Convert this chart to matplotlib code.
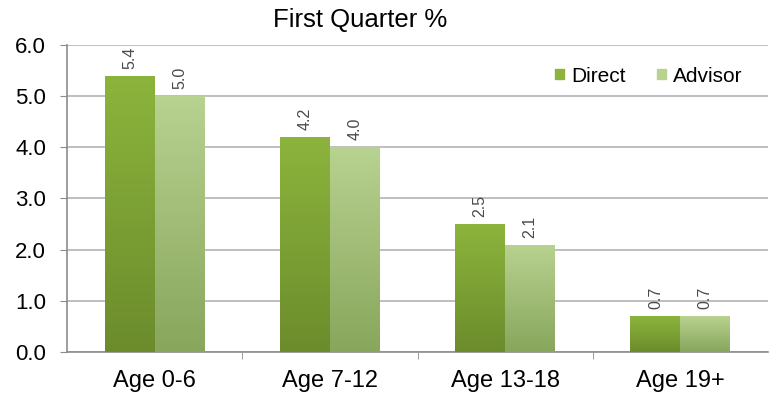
import matplotlib.pyplot as plt
import numpy as np
from matplotlib.colors import LinearSegmentedColormap
from matplotlib.patches import Patch

plt.rcParams['font.family'] = ['Liberation Sans', 'DejaVu Sans']

categories = ['Age 0-6', 'Age 7-12', 'Age 13-18', 'Age 19+']
direct = [5.4, 4.2, 2.5, 0.7]
advisor = [5.0, 4.0, 2.1, 0.7]

# gradient colours, top -> bottom
direct_cols = ['#8cb43c', '#6c8c2c']
advisor_cols = ['#b8d290', '#88a65c']

fig = plt.figure(figsize=(7.75, 3.97), dpi=100)
ax = fig.add_axes([0.0865, 0.1134, 0.9045, 0.7732])

x = np.arange(len(categories))
w = 0.285
grad = np.linspace(0, 1, 256).reshape(-1, 1)


def gradient_bars(xs, vals, cols):
    cmap = LinearSegmentedColormap.from_list('g', [cols[1], cols[0]])
    bars = ax.bar(xs, vals, w, color='none', edgecolor='none', zorder=3)
    for b in bars:
        x0, y0 = b.get_x(), b.get_y()
        im = ax.imshow(grad, cmap=cmap, origin='lower', aspect='auto',
                       extent=[x0, x0 + b.get_width(), y0, y0 + b.get_height()],
                       zorder=3)
        im.set_clip_path(b)
    return bars


b1 = gradient_bars(x - w / 2, direct, direct_cols)
b2 = gradient_bars(x + w / 2, advisor, advisor_cols)

for bars, vals in ((b1, direct), (b2, advisor)):
    for b, v in zip(bars, vals):
        ax.annotate(f'{v:.1f}', (b.get_x() + b.get_width() / 2, v),
                    xytext=(0, 5), textcoords='offset points',
                    rotation=90, ha='center', va='bottom',
                    fontsize=11.5, color='#4a4a4a')

ax.set_xlim(-0.5, 3.5)
ax.set_ylim(0, 6)
ax.set_yticks(np.arange(0, 6.1, 1.0))
ax.set_yticklabels([f'{t:.1f}' for t in np.arange(0, 6.1, 1.0)])
ax.set_xticks(x)
ax.set_xticklabels(categories)
ax.set_xticks([0.5, 1.5, 2.5], minor=True)

ax.grid(axis='y', color='#b4b4b4', linewidth=1.2, zorder=0)
ax.set_axisbelow(True)
for s in ('top', 'right'):
    ax.spines[s].set_visible(False)
for s in ('left', 'bottom'):
    ax.spines[s].set_color('#8c8c8c')
    ax.spines[s].set_linewidth(1.2)

ax.tick_params(axis='y', labelsize=16, length=5, color='#8c8c8c', pad=10)
ax.tick_params(axis='x', which='major', labelsize=17, length=0, pad=13)
ax.tick_params(axis='x', which='minor', length=5, color='#8c8c8c')

handles = [Patch(color=direct_cols[0]), Patch(color=advisor_cols[0])]
ax.legend(handles, ['Direct', 'Advisor'], loc='upper right', ncol=2,
          frameon=False, fontsize=15, handlelength=0.42, handleheight=0.42,
          handletextpad=0.35, columnspacing=1.5,
          borderaxespad=0, borderpad=0,
          bbox_to_anchor=(0.964, 0.93))

fig.text(0.465, 0.95, 'First Quarter %', ha='center', va='center', fontsize=18.5)

fig.savefig('out.png', dpi=100)
